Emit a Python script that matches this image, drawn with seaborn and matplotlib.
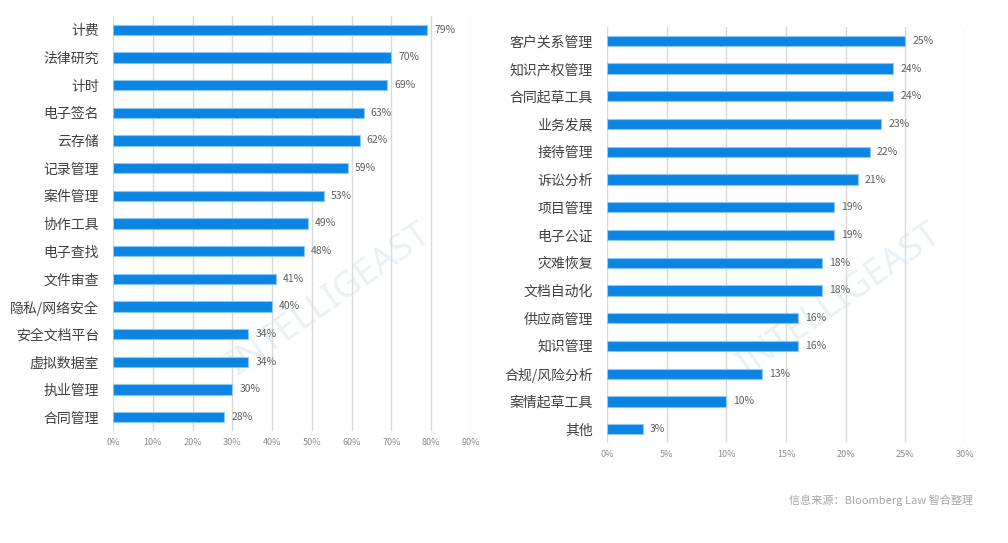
import matplotlib
matplotlib.use("Agg")
import matplotlib.pyplot as plt
import seaborn as sns
import pandas as pd

left_categories = ["计费", "法律研究", "计时", "电子签名", "云存储", "记录管理", "案件管理", "协作工具",
                   "电子查找", "文件审查", "隐私/网络安全", "安全文档平台", "虚拟数据室", "执业管理", "合同管理"]
left_values = [79, 70, 69, 63, 62, 59, 53, 49, 48, 41, 40, 34, 34, 30, 28]
left_ticks = [0, 10, 20, 30, 40, 50, 60, 70, 80, 90]

right_categories = ["客户关系管理", "知识产权管理", "合同起草工具", "业务发展", "接待管理", "诉讼分析", "项目管理",
                    "电子公证", "灾难恢复", "文档自动化", "供应商管理", "知识管理", "合规/风险分析", "案情起草工具", "其他"]
right_values = [25, 24, 24, 23, 22, 21, 19, 19, 18, 18, 16, 16, 13, 10, 3]
right_ticks = [0, 5, 10, 15, 20, 25, 30]

source_text = "信息来源：Bloomberg Law 智合整理"

sns.set_theme(style="white")
plt.rcParams['font.family'] = ['Noto Sans CJK SC', 'DejaVu Sans']

BAR = "#0b84e4"
EDGE = "#8cc6f2"
GRID = "#d9d9d9"

fig = plt.figure(figsize=(10.08, 5.43), dpi=100)
W, H = 1008, 543

def make_ax(x0, x1, y0, y1):
    return fig.add_axes([x0 / W, 1 - y1 / H, (x1 - x0) / W, (y1 - y0) / H])

def draw(ax, cats, vals, ticks):
    df = pd.DataFrame({"cat": cats, "val": vals})
    sns.barplot(data=df, x="val", y="cat", ax=ax, color=BAR, width=0.37,
                edgecolor=EDGE, linewidth=0.8, saturation=1, orient="h", zorder=3)
    ax.set_xlim(ticks[0], ticks[-1])
    ax.set_ylim(len(cats) - 0.5, -0.5)
    ax.set_xticks(ticks)
    ax.set_xticklabels([f"{t}%" for t in ticks], fontsize=6.5, color="#8c8c8c")
    ax.xaxis.grid(True, color=GRID, linewidth=1.0, zorder=0)
    ax.yaxis.grid(False)
    ax.set_axisbelow(True)
    ax.patch.set_alpha(0)
    for s in ax.spines.values():
        s.set_visible(False)
    ax.tick_params(axis="y", length=0, pad=10, labelsize=10, labelcolor="#404040")
    ax.tick_params(axis="x", length=0, pad=5)
    ax.set_xlabel("")
    ax.set_ylabel("")
    ax.bar_label(ax.containers[0], labels=[f"{v}%" for v in vals], padding=5,
                 fontsize=7.5, color="#606060")

# faint watermark behind the charts
for (x, y) in [(330 / W, 1 - 300 / H), (840 / W, 1 - 300 / H)]:
    fig.text(x, y, "INTELLIGEAST", rotation=35, fontsize=26, color="#eaf1f6",
             ha="center", va="center", zorder=-5,
             family=["Noto Sans", "DejaVu Sans"])

axL = make_ax(113, 471, 16, 431)
draw(axL, left_categories, left_values, left_ticks)

axR = make_ax(607, 965, 27, 443)
draw(axR, right_categories, right_values, right_ticks)

fig.text(973 / W, 1 - 500 / H, source_text, ha="right", va="center",
         fontsize=8, color="#a6a6a6")

fig.savefig("out.png", dpi=100)
